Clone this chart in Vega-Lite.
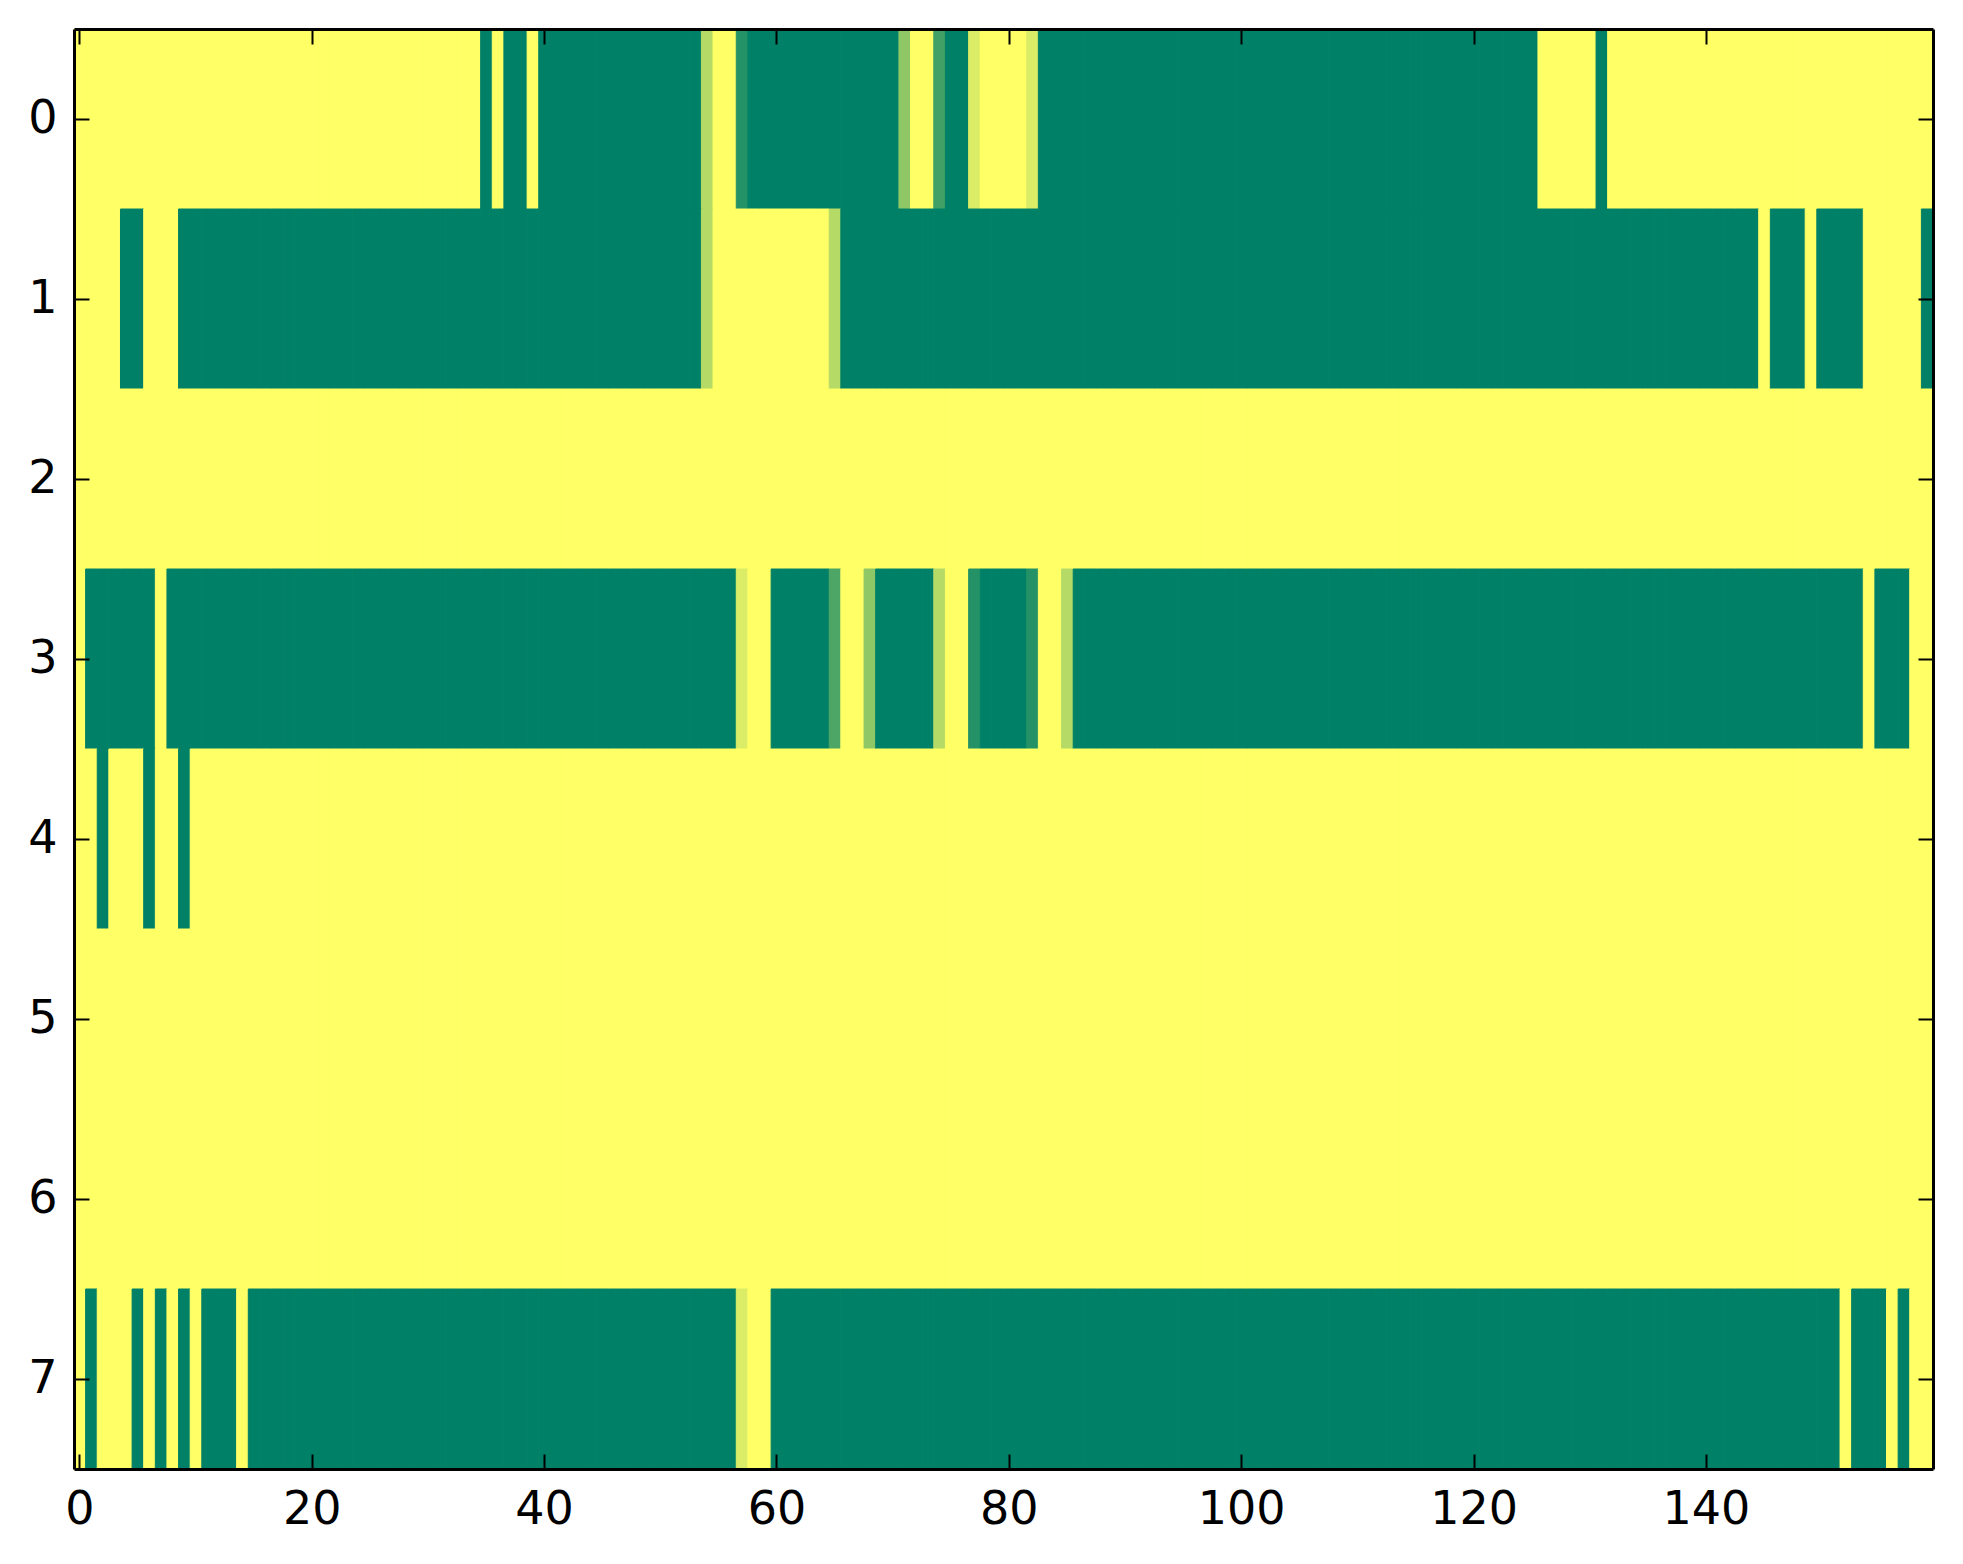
{
  "$schema": "https://vega.github.io/schema/vega-lite/v6.json",
  "width": 1859,
  "height": 1440,
  "autosize": "none",
  "padding": {"left": 74, "top": 29, "right": 30, "bottom": 95},
  "background": "white",
  "config": {
    "view": {"stroke": null},
    "axis": {
      "labelFont": "DejaVu Sans",
      "labelFontSize": 46,
      "labelColor": "black",
      "tickColor": "black",
      "tickWidth": 2,
      "tickSize": -15,
      "domainColor": "black",
      "domainWidth": 3,
      "grid": false,
      "title": null
    }
  },
  "data": {
    "values": [
      {"r":0,"c":0,"v":1},{"r":0,"c":1,"v":1},{"r":0,"c":2,"v":1},{"r":0,"c":3,"v":1},{"r":0,"c":4,"v":1},{"r":0,"c":5,"v":1},{"r":0,"c":6,"v":1},{"r":0,"c":7,"v":1},{"r":0,"c":8,"v":1},{"r":0,"c":9,"v":1},
      {"r":0,"c":10,"v":1},{"r":0,"c":11,"v":1},{"r":0,"c":12,"v":1},{"r":0,"c":13,"v":1},{"r":0,"c":14,"v":1},{"r":0,"c":15,"v":1},{"r":0,"c":16,"v":1},{"r":0,"c":17,"v":1},{"r":0,"c":18,"v":1},{"r":0,"c":19,"v":1},
      {"r":0,"c":20,"v":1},{"r":0,"c":21,"v":1},{"r":0,"c":22,"v":1},{"r":0,"c":23,"v":1},{"r":0,"c":24,"v":1},{"r":0,"c":25,"v":1},{"r":0,"c":26,"v":1},{"r":0,"c":27,"v":1},{"r":0,"c":28,"v":1},{"r":0,"c":29,"v":1},
      {"r":0,"c":30,"v":1},{"r":0,"c":31,"v":1},{"r":0,"c":32,"v":1},{"r":0,"c":33,"v":1},{"r":0,"c":34,"v":1},{"r":0,"c":35,"v":0},{"r":0,"c":36,"v":1},{"r":0,"c":37,"v":0},{"r":0,"c":38,"v":0},{"r":0,"c":39,"v":1},
      {"r":0,"c":40,"v":0},{"r":0,"c":41,"v":0},{"r":0,"c":42,"v":0},{"r":0,"c":43,"v":0},{"r":0,"c":44,"v":0},{"r":0,"c":45,"v":0},{"r":0,"c":46,"v":0},{"r":0,"c":47,"v":0},{"r":0,"c":48,"v":0},{"r":0,"c":49,"v":0},
      {"r":0,"c":50,"v":0},{"r":0,"c":51,"v":0},{"r":0,"c":52,"v":0},{"r":0,"c":53,"v":0},{"r":0,"c":54,"v":0.71},{"r":0,"c":55,"v":1},{"r":0,"c":56,"v":1},{"r":0,"c":57,"v":0.14},{"r":0,"c":58,"v":0},{"r":0,"c":59,"v":0},
      {"r":0,"c":60,"v":0},{"r":0,"c":61,"v":0},{"r":0,"c":62,"v":0},{"r":0,"c":63,"v":0},{"r":0,"c":64,"v":0},{"r":0,"c":65,"v":0},{"r":0,"c":66,"v":0},{"r":0,"c":67,"v":0},{"r":0,"c":68,"v":0},{"r":0,"c":69,"v":0},
      {"r":0,"c":70,"v":0},{"r":0,"c":71,"v":0.56},{"r":0,"c":72,"v":1},{"r":0,"c":73,"v":1},{"r":0,"c":74,"v":0.25},{"r":0,"c":75,"v":0},{"r":0,"c":76,"v":0},{"r":0,"c":77,"v":0.86},{"r":0,"c":78,"v":1},{"r":0,"c":79,"v":1},
      {"r":0,"c":80,"v":1},{"r":0,"c":81,"v":1},{"r":0,"c":82,"v":0.86},{"r":0,"c":83,"v":0},{"r":0,"c":84,"v":0},{"r":0,"c":85,"v":0},{"r":0,"c":86,"v":0},{"r":0,"c":87,"v":0},{"r":0,"c":88,"v":0},{"r":0,"c":89,"v":0},
      {"r":0,"c":90,"v":0},{"r":0,"c":91,"v":0},{"r":0,"c":92,"v":0},{"r":0,"c":93,"v":0},{"r":0,"c":94,"v":0},{"r":0,"c":95,"v":0},{"r":0,"c":96,"v":0},{"r":0,"c":97,"v":0},{"r":0,"c":98,"v":0},{"r":0,"c":99,"v":0},
      {"r":0,"c":100,"v":0},{"r":0,"c":101,"v":0},{"r":0,"c":102,"v":0},{"r":0,"c":103,"v":0},{"r":0,"c":104,"v":0},{"r":0,"c":105,"v":0},{"r":0,"c":106,"v":0},{"r":0,"c":107,"v":0},{"r":0,"c":108,"v":0},{"r":0,"c":109,"v":0},
      {"r":0,"c":110,"v":0},{"r":0,"c":111,"v":0},{"r":0,"c":112,"v":0},{"r":0,"c":113,"v":0},{"r":0,"c":114,"v":0},{"r":0,"c":115,"v":0},{"r":0,"c":116,"v":0},{"r":0,"c":117,"v":0},{"r":0,"c":118,"v":0},{"r":0,"c":119,"v":0},
      {"r":0,"c":120,"v":0},{"r":0,"c":121,"v":0},{"r":0,"c":122,"v":0},{"r":0,"c":123,"v":0},{"r":0,"c":124,"v":0},{"r":0,"c":125,"v":0},{"r":0,"c":126,"v":1},{"r":0,"c":127,"v":1},{"r":0,"c":128,"v":1},{"r":0,"c":129,"v":1},
      {"r":0,"c":130,"v":1},{"r":0,"c":131,"v":0},{"r":0,"c":132,"v":1},{"r":0,"c":133,"v":1},{"r":0,"c":134,"v":1},{"r":0,"c":135,"v":1},{"r":0,"c":136,"v":1},{"r":0,"c":137,"v":1},{"r":0,"c":138,"v":1},{"r":0,"c":139,"v":1},
      {"r":0,"c":140,"v":1},{"r":0,"c":141,"v":1},{"r":0,"c":142,"v":1},{"r":0,"c":143,"v":1},{"r":0,"c":144,"v":1},{"r":0,"c":145,"v":1},{"r":0,"c":146,"v":1},{"r":0,"c":147,"v":1},{"r":0,"c":148,"v":1},{"r":0,"c":149,"v":1},
      {"r":0,"c":150,"v":1},{"r":0,"c":151,"v":1},{"r":0,"c":152,"v":1},{"r":0,"c":153,"v":1},{"r":0,"c":154,"v":1},{"r":0,"c":155,"v":1},{"r":0,"c":156,"v":1},{"r":0,"c":157,"v":1},{"r":0,"c":158,"v":1},{"r":0,"c":159,"v":1},

      {"r":1,"c":0,"v":1},{"r":1,"c":1,"v":1},{"r":1,"c":2,"v":1},{"r":1,"c":3,"v":1},{"r":1,"c":4,"v":0},{"r":1,"c":5,"v":0},{"r":1,"c":6,"v":1},{"r":1,"c":7,"v":1},{"r":1,"c":8,"v":1},{"r":1,"c":9,"v":0},
      {"r":1,"c":10,"v":0},{"r":1,"c":11,"v":0},{"r":1,"c":12,"v":0},{"r":1,"c":13,"v":0},{"r":1,"c":14,"v":0},{"r":1,"c":15,"v":0},{"r":1,"c":16,"v":0},{"r":1,"c":17,"v":0},{"r":1,"c":18,"v":0},{"r":1,"c":19,"v":0},
      {"r":1,"c":20,"v":0},{"r":1,"c":21,"v":0},{"r":1,"c":22,"v":0},{"r":1,"c":23,"v":0},{"r":1,"c":24,"v":0},{"r":1,"c":25,"v":0},{"r":1,"c":26,"v":0},{"r":1,"c":27,"v":0},{"r":1,"c":28,"v":0},{"r":1,"c":29,"v":0},
      {"r":1,"c":30,"v":0},{"r":1,"c":31,"v":0},{"r":1,"c":32,"v":0},{"r":1,"c":33,"v":0},{"r":1,"c":34,"v":0},{"r":1,"c":35,"v":0},{"r":1,"c":36,"v":0},{"r":1,"c":37,"v":0},{"r":1,"c":38,"v":0},{"r":1,"c":39,"v":0},
      {"r":1,"c":40,"v":0},{"r":1,"c":41,"v":0},{"r":1,"c":42,"v":0},{"r":1,"c":43,"v":0},{"r":1,"c":44,"v":0},{"r":1,"c":45,"v":0},{"r":1,"c":46,"v":0},{"r":1,"c":47,"v":0},{"r":1,"c":48,"v":0},{"r":1,"c":49,"v":0},
      {"r":1,"c":50,"v":0},{"r":1,"c":51,"v":0},{"r":1,"c":52,"v":0},{"r":1,"c":53,"v":0},{"r":1,"c":54,"v":0.71},{"r":1,"c":55,"v":1},{"r":1,"c":56,"v":1},{"r":1,"c":57,"v":1},{"r":1,"c":58,"v":1},{"r":1,"c":59,"v":1},
      {"r":1,"c":60,"v":1},{"r":1,"c":61,"v":1},{"r":1,"c":62,"v":1},{"r":1,"c":63,"v":1},{"r":1,"c":64,"v":1},{"r":1,"c":65,"v":0.71},{"r":1,"c":66,"v":0},{"r":1,"c":67,"v":0},{"r":1,"c":68,"v":0},{"r":1,"c":69,"v":0},
      {"r":1,"c":70,"v":0},{"r":1,"c":71,"v":0},{"r":1,"c":72,"v":0},{"r":1,"c":73,"v":0},{"r":1,"c":74,"v":0},{"r":1,"c":75,"v":0},{"r":1,"c":76,"v":0},{"r":1,"c":77,"v":0},{"r":1,"c":78,"v":0},{"r":1,"c":79,"v":0},
      {"r":1,"c":80,"v":0},{"r":1,"c":81,"v":0},{"r":1,"c":82,"v":0},{"r":1,"c":83,"v":0},{"r":1,"c":84,"v":0},{"r":1,"c":85,"v":0},{"r":1,"c":86,"v":0},{"r":1,"c":87,"v":0},{"r":1,"c":88,"v":0},{"r":1,"c":89,"v":0},
      {"r":1,"c":90,"v":0},{"r":1,"c":91,"v":0},{"r":1,"c":92,"v":0},{"r":1,"c":93,"v":0},{"r":1,"c":94,"v":0},{"r":1,"c":95,"v":0},{"r":1,"c":96,"v":0},{"r":1,"c":97,"v":0},{"r":1,"c":98,"v":0},{"r":1,"c":99,"v":0},
      {"r":1,"c":100,"v":0},{"r":1,"c":101,"v":0},{"r":1,"c":102,"v":0},{"r":1,"c":103,"v":0},{"r":1,"c":104,"v":0},{"r":1,"c":105,"v":0},{"r":1,"c":106,"v":0},{"r":1,"c":107,"v":0},{"r":1,"c":108,"v":0},{"r":1,"c":109,"v":0},
      {"r":1,"c":110,"v":0},{"r":1,"c":111,"v":0},{"r":1,"c":112,"v":0},{"r":1,"c":113,"v":0},{"r":1,"c":114,"v":0},{"r":1,"c":115,"v":0},{"r":1,"c":116,"v":0},{"r":1,"c":117,"v":0},{"r":1,"c":118,"v":0},{"r":1,"c":119,"v":0},
      {"r":1,"c":120,"v":0},{"r":1,"c":121,"v":0},{"r":1,"c":122,"v":0},{"r":1,"c":123,"v":0},{"r":1,"c":124,"v":0},{"r":1,"c":125,"v":0},{"r":1,"c":126,"v":0},{"r":1,"c":127,"v":0},{"r":1,"c":128,"v":0},{"r":1,"c":129,"v":0},
      {"r":1,"c":130,"v":0},{"r":1,"c":131,"v":0},{"r":1,"c":132,"v":0},{"r":1,"c":133,"v":0},{"r":1,"c":134,"v":0},{"r":1,"c":135,"v":0},{"r":1,"c":136,"v":0},{"r":1,"c":137,"v":0},{"r":1,"c":138,"v":0},{"r":1,"c":139,"v":0},
      {"r":1,"c":140,"v":0},{"r":1,"c":141,"v":0},{"r":1,"c":142,"v":0},{"r":1,"c":143,"v":0},{"r":1,"c":144,"v":0},{"r":1,"c":145,"v":1},{"r":1,"c":146,"v":0},{"r":1,"c":147,"v":0},{"r":1,"c":148,"v":0},{"r":1,"c":149,"v":1},
      {"r":1,"c":150,"v":0},{"r":1,"c":151,"v":0},{"r":1,"c":152,"v":0},{"r":1,"c":153,"v":0},{"r":1,"c":154,"v":1},{"r":1,"c":155,"v":1},{"r":1,"c":156,"v":1},{"r":1,"c":157,"v":1},{"r":1,"c":158,"v":1},{"r":1,"c":159,"v":0},

      {"r":2,"c":0,"v":1},{"r":2,"c":1,"v":1},{"r":2,"c":2,"v":1},{"r":2,"c":3,"v":1},{"r":2,"c":4,"v":1},{"r":2,"c":5,"v":1},{"r":2,"c":6,"v":1},{"r":2,"c":7,"v":1},{"r":2,"c":8,"v":1},{"r":2,"c":9,"v":1},
      {"r":2,"c":10,"v":1},{"r":2,"c":11,"v":1},{"r":2,"c":12,"v":1},{"r":2,"c":13,"v":1},{"r":2,"c":14,"v":1},{"r":2,"c":15,"v":1},{"r":2,"c":16,"v":1},{"r":2,"c":17,"v":1},{"r":2,"c":18,"v":1},{"r":2,"c":19,"v":1},
      {"r":2,"c":20,"v":1},{"r":2,"c":21,"v":1},{"r":2,"c":22,"v":1},{"r":2,"c":23,"v":1},{"r":2,"c":24,"v":1},{"r":2,"c":25,"v":1},{"r":2,"c":26,"v":1},{"r":2,"c":27,"v":1},{"r":2,"c":28,"v":1},{"r":2,"c":29,"v":1},
      {"r":2,"c":30,"v":1},{"r":2,"c":31,"v":1},{"r":2,"c":32,"v":1},{"r":2,"c":33,"v":1},{"r":2,"c":34,"v":1},{"r":2,"c":35,"v":1},{"r":2,"c":36,"v":1},{"r":2,"c":37,"v":1},{"r":2,"c":38,"v":1},{"r":2,"c":39,"v":1},
      {"r":2,"c":40,"v":1},{"r":2,"c":41,"v":1},{"r":2,"c":42,"v":1},{"r":2,"c":43,"v":1},{"r":2,"c":44,"v":1},{"r":2,"c":45,"v":1},{"r":2,"c":46,"v":1},{"r":2,"c":47,"v":1},{"r":2,"c":48,"v":1},{"r":2,"c":49,"v":1},
      {"r":2,"c":50,"v":1},{"r":2,"c":51,"v":1},{"r":2,"c":52,"v":1},{"r":2,"c":53,"v":1},{"r":2,"c":54,"v":1},{"r":2,"c":55,"v":1},{"r":2,"c":56,"v":1},{"r":2,"c":57,"v":1},{"r":2,"c":58,"v":1},{"r":2,"c":59,"v":1},
      {"r":2,"c":60,"v":1},{"r":2,"c":61,"v":1},{"r":2,"c":62,"v":1},{"r":2,"c":63,"v":1},{"r":2,"c":64,"v":1},{"r":2,"c":65,"v":1},{"r":2,"c":66,"v":1},{"r":2,"c":67,"v":1},{"r":2,"c":68,"v":1},{"r":2,"c":69,"v":1},
      {"r":2,"c":70,"v":1},{"r":2,"c":71,"v":1},{"r":2,"c":72,"v":1},{"r":2,"c":73,"v":1},{"r":2,"c":74,"v":1},{"r":2,"c":75,"v":1},{"r":2,"c":76,"v":1},{"r":2,"c":77,"v":1},{"r":2,"c":78,"v":1},{"r":2,"c":79,"v":1},
      {"r":2,"c":80,"v":1},{"r":2,"c":81,"v":1},{"r":2,"c":82,"v":1},{"r":2,"c":83,"v":1},{"r":2,"c":84,"v":1},{"r":2,"c":85,"v":1},{"r":2,"c":86,"v":1},{"r":2,"c":87,"v":1},{"r":2,"c":88,"v":1},{"r":2,"c":89,"v":1},
      {"r":2,"c":90,"v":1},{"r":2,"c":91,"v":1},{"r":2,"c":92,"v":1},{"r":2,"c":93,"v":1},{"r":2,"c":94,"v":1},{"r":2,"c":95,"v":1},{"r":2,"c":96,"v":1},{"r":2,"c":97,"v":1},{"r":2,"c":98,"v":1},{"r":2,"c":99,"v":1},
      {"r":2,"c":100,"v":1},{"r":2,"c":101,"v":1},{"r":2,"c":102,"v":1},{"r":2,"c":103,"v":1},{"r":2,"c":104,"v":1},{"r":2,"c":105,"v":1},{"r":2,"c":106,"v":1},{"r":2,"c":107,"v":1},{"r":2,"c":108,"v":1},{"r":2,"c":109,"v":1},
      {"r":2,"c":110,"v":1},{"r":2,"c":111,"v":1},{"r":2,"c":112,"v":1},{"r":2,"c":113,"v":1},{"r":2,"c":114,"v":1},{"r":2,"c":115,"v":1},{"r":2,"c":116,"v":1},{"r":2,"c":117,"v":1},{"r":2,"c":118,"v":1},{"r":2,"c":119,"v":1},
      {"r":2,"c":120,"v":1},{"r":2,"c":121,"v":1},{"r":2,"c":122,"v":1},{"r":2,"c":123,"v":1},{"r":2,"c":124,"v":1},{"r":2,"c":125,"v":1},{"r":2,"c":126,"v":1},{"r":2,"c":127,"v":1},{"r":2,"c":128,"v":1},{"r":2,"c":129,"v":1},
      {"r":2,"c":130,"v":1},{"r":2,"c":131,"v":1},{"r":2,"c":132,"v":1},{"r":2,"c":133,"v":1},{"r":2,"c":134,"v":1},{"r":2,"c":135,"v":1},{"r":2,"c":136,"v":1},{"r":2,"c":137,"v":1},{"r":2,"c":138,"v":1},{"r":2,"c":139,"v":1},
      {"r":2,"c":140,"v":1},{"r":2,"c":141,"v":1},{"r":2,"c":142,"v":1},{"r":2,"c":143,"v":1},{"r":2,"c":144,"v":1},{"r":2,"c":145,"v":1},{"r":2,"c":146,"v":1},{"r":2,"c":147,"v":1},{"r":2,"c":148,"v":1},{"r":2,"c":149,"v":1},
      {"r":2,"c":150,"v":1},{"r":2,"c":151,"v":1},{"r":2,"c":152,"v":1},{"r":2,"c":153,"v":1},{"r":2,"c":154,"v":1},{"r":2,"c":155,"v":1},{"r":2,"c":156,"v":1},{"r":2,"c":157,"v":1},{"r":2,"c":158,"v":1},{"r":2,"c":159,"v":1},

      {"r":3,"c":0,"v":1},{"r":3,"c":1,"v":0},{"r":3,"c":2,"v":0},{"r":3,"c":3,"v":0},{"r":3,"c":4,"v":0},{"r":3,"c":5,"v":0},{"r":3,"c":6,"v":0},{"r":3,"c":7,"v":1},{"r":3,"c":8,"v":0},{"r":3,"c":9,"v":0},
      {"r":3,"c":10,"v":0},{"r":3,"c":11,"v":0},{"r":3,"c":12,"v":0},{"r":3,"c":13,"v":0},{"r":3,"c":14,"v":0},{"r":3,"c":15,"v":0},{"r":3,"c":16,"v":0},{"r":3,"c":17,"v":0},{"r":3,"c":18,"v":0},{"r":3,"c":19,"v":0},
      {"r":3,"c":20,"v":0},{"r":3,"c":21,"v":0},{"r":3,"c":22,"v":0},{"r":3,"c":23,"v":0},{"r":3,"c":24,"v":0},{"r":3,"c":25,"v":0},{"r":3,"c":26,"v":0},{"r":3,"c":27,"v":0},{"r":3,"c":28,"v":0},{"r":3,"c":29,"v":0},
      {"r":3,"c":30,"v":0},{"r":3,"c":31,"v":0},{"r":3,"c":32,"v":0},{"r":3,"c":33,"v":0},{"r":3,"c":34,"v":0},{"r":3,"c":35,"v":0},{"r":3,"c":36,"v":0},{"r":3,"c":37,"v":0},{"r":3,"c":38,"v":0},{"r":3,"c":39,"v":0},
      {"r":3,"c":40,"v":0},{"r":3,"c":41,"v":0},{"r":3,"c":42,"v":0},{"r":3,"c":43,"v":0},{"r":3,"c":44,"v":0},{"r":3,"c":45,"v":0},{"r":3,"c":46,"v":0},{"r":3,"c":47,"v":0},{"r":3,"c":48,"v":0},{"r":3,"c":49,"v":0},
      {"r":3,"c":50,"v":0},{"r":3,"c":51,"v":0},{"r":3,"c":52,"v":0},{"r":3,"c":53,"v":0},{"r":3,"c":54,"v":0},{"r":3,"c":55,"v":0},{"r":3,"c":56,"v":0},{"r":3,"c":57,"v":0.86},{"r":3,"c":58,"v":1},{"r":3,"c":59,"v":1},
      {"r":3,"c":60,"v":0},{"r":3,"c":61,"v":0},{"r":3,"c":62,"v":0},{"r":3,"c":63,"v":0},{"r":3,"c":64,"v":0},{"r":3,"c":65,"v":0.3},{"r":3,"c":66,"v":1},{"r":3,"c":67,"v":1},{"r":3,"c":68,"v":0.56},{"r":3,"c":69,"v":0},
      {"r":3,"c":70,"v":0},{"r":3,"c":71,"v":0},{"r":3,"c":72,"v":0},{"r":3,"c":73,"v":0},{"r":3,"c":74,"v":0.71},{"r":3,"c":75,"v":1},{"r":3,"c":76,"v":1},{"r":3,"c":77,"v":0.14},{"r":3,"c":78,"v":0},{"r":3,"c":79,"v":0},
      {"r":3,"c":80,"v":0},{"r":3,"c":81,"v":0},{"r":3,"c":82,"v":0.14},{"r":3,"c":83,"v":1},{"r":3,"c":84,"v":1},{"r":3,"c":85,"v":0.71},{"r":3,"c":86,"v":0},{"r":3,"c":87,"v":0},{"r":3,"c":88,"v":0},{"r":3,"c":89,"v":0},
      {"r":3,"c":90,"v":0},{"r":3,"c":91,"v":0},{"r":3,"c":92,"v":0},{"r":3,"c":93,"v":0},{"r":3,"c":94,"v":0},{"r":3,"c":95,"v":0},{"r":3,"c":96,"v":0},{"r":3,"c":97,"v":0},{"r":3,"c":98,"v":0},{"r":3,"c":99,"v":0},
      {"r":3,"c":100,"v":0},{"r":3,"c":101,"v":0},{"r":3,"c":102,"v":0},{"r":3,"c":103,"v":0},{"r":3,"c":104,"v":0},{"r":3,"c":105,"v":0},{"r":3,"c":106,"v":0},{"r":3,"c":107,"v":0},{"r":3,"c":108,"v":0},{"r":3,"c":109,"v":0},
      {"r":3,"c":110,"v":0},{"r":3,"c":111,"v":0},{"r":3,"c":112,"v":0},{"r":3,"c":113,"v":0},{"r":3,"c":114,"v":0},{"r":3,"c":115,"v":0},{"r":3,"c":116,"v":0},{"r":3,"c":117,"v":0},{"r":3,"c":118,"v":0},{"r":3,"c":119,"v":0},
      {"r":3,"c":120,"v":0},{"r":3,"c":121,"v":0},{"r":3,"c":122,"v":0},{"r":3,"c":123,"v":0},{"r":3,"c":124,"v":0},{"r":3,"c":125,"v":0},{"r":3,"c":126,"v":0},{"r":3,"c":127,"v":0},{"r":3,"c":128,"v":0},{"r":3,"c":129,"v":0},
      {"r":3,"c":130,"v":0},{"r":3,"c":131,"v":0},{"r":3,"c":132,"v":0},{"r":3,"c":133,"v":0},{"r":3,"c":134,"v":0},{"r":3,"c":135,"v":0},{"r":3,"c":136,"v":0},{"r":3,"c":137,"v":0},{"r":3,"c":138,"v":0},{"r":3,"c":139,"v":0},
      {"r":3,"c":140,"v":0},{"r":3,"c":141,"v":0},{"r":3,"c":142,"v":0},{"r":3,"c":143,"v":0},{"r":3,"c":144,"v":0},{"r":3,"c":145,"v":0},{"r":3,"c":146,"v":0},{"r":3,"c":147,"v":0},{"r":3,"c":148,"v":0},{"r":3,"c":149,"v":0},
      {"r":3,"c":150,"v":0},{"r":3,"c":151,"v":0},{"r":3,"c":152,"v":0},{"r":3,"c":153,"v":0},{"r":3,"c":154,"v":1},{"r":3,"c":155,"v":0},{"r":3,"c":156,"v":0},{"r":3,"c":157,"v":0},{"r":3,"c":158,"v":1},{"r":3,"c":159,"v":1},

      {"r":4,"c":0,"v":1},{"r":4,"c":1,"v":1},{"r":4,"c":2,"v":0},{"r":4,"c":3,"v":1},{"r":4,"c":4,"v":1},{"r":4,"c":5,"v":1},{"r":4,"c":6,"v":0},{"r":4,"c":7,"v":1},{"r":4,"c":8,"v":1},{"r":4,"c":9,"v":0},
      {"r":4,"c":10,"v":1},{"r":4,"c":11,"v":1},{"r":4,"c":12,"v":1},{"r":4,"c":13,"v":1},{"r":4,"c":14,"v":1},{"r":4,"c":15,"v":1},{"r":4,"c":16,"v":1},{"r":4,"c":17,"v":1},{"r":4,"c":18,"v":1},{"r":4,"c":19,"v":1},
      {"r":4,"c":20,"v":1},{"r":4,"c":21,"v":1},{"r":4,"c":22,"v":1},{"r":4,"c":23,"v":1},{"r":4,"c":24,"v":1},{"r":4,"c":25,"v":1},{"r":4,"c":26,"v":1},{"r":4,"c":27,"v":1},{"r":4,"c":28,"v":1},{"r":4,"c":29,"v":1},
      {"r":4,"c":30,"v":1},{"r":4,"c":31,"v":1},{"r":4,"c":32,"v":1},{"r":4,"c":33,"v":1},{"r":4,"c":34,"v":1},{"r":4,"c":35,"v":1},{"r":4,"c":36,"v":1},{"r":4,"c":37,"v":1},{"r":4,"c":38,"v":1},{"r":4,"c":39,"v":1},
      {"r":4,"c":40,"v":1},{"r":4,"c":41,"v":1},{"r":4,"c":42,"v":1},{"r":4,"c":43,"v":1},{"r":4,"c":44,"v":1},{"r":4,"c":45,"v":1},{"r":4,"c":46,"v":1},{"r":4,"c":47,"v":1},{"r":4,"c":48,"v":1},{"r":4,"c":49,"v":1},
      {"r":4,"c":50,"v":1},{"r":4,"c":51,"v":1},{"r":4,"c":52,"v":1},{"r":4,"c":53,"v":1},{"r":4,"c":54,"v":1},{"r":4,"c":55,"v":1},{"r":4,"c":56,"v":1},{"r":4,"c":57,"v":1},{"r":4,"c":58,"v":1},{"r":4,"c":59,"v":1},
      {"r":4,"c":60,"v":1},{"r":4,"c":61,"v":1},{"r":4,"c":62,"v":1},{"r":4,"c":63,"v":1},{"r":4,"c":64,"v":1},{"r":4,"c":65,"v":1},{"r":4,"c":66,"v":1},{"r":4,"c":67,"v":1},{"r":4,"c":68,"v":1},{"r":4,"c":69,"v":1},
      {"r":4,"c":70,"v":1},{"r":4,"c":71,"v":1},{"r":4,"c":72,"v":1},{"r":4,"c":73,"v":1},{"r":4,"c":74,"v":1},{"r":4,"c":75,"v":1},{"r":4,"c":76,"v":1},{"r":4,"c":77,"v":1},{"r":4,"c":78,"v":1},{"r":4,"c":79,"v":1},
      {"r":4,"c":80,"v":1},{"r":4,"c":81,"v":1},{"r":4,"c":82,"v":1},{"r":4,"c":83,"v":1},{"r":4,"c":84,"v":1},{"r":4,"c":85,"v":1},{"r":4,"c":86,"v":1},{"r":4,"c":87,"v":1},{"r":4,"c":88,"v":1},{"r":4,"c":89,"v":1},
      {"r":4,"c":90,"v":1},{"r":4,"c":91,"v":1},{"r":4,"c":92,"v":1},{"r":4,"c":93,"v":1},{"r":4,"c":94,"v":1},{"r":4,"c":95,"v":1},{"r":4,"c":96,"v":1},{"r":4,"c":97,"v":1},{"r":4,"c":98,"v":1},{"r":4,"c":99,"v":1},
      {"r":4,"c":100,"v":1},{"r":4,"c":101,"v":1},{"r":4,"c":102,"v":1},{"r":4,"c":103,"v":1},{"r":4,"c":104,"v":1},{"r":4,"c":105,"v":1},{"r":4,"c":106,"v":1},{"r":4,"c":107,"v":1},{"r":4,"c":108,"v":1},{"r":4,"c":109,"v":1},
      {"r":4,"c":110,"v":1},{"r":4,"c":111,"v":1},{"r":4,"c":112,"v":1},{"r":4,"c":113,"v":1},{"r":4,"c":114,"v":1},{"r":4,"c":115,"v":1},{"r":4,"c":116,"v":1},{"r":4,"c":117,"v":1},{"r":4,"c":118,"v":1},{"r":4,"c":119,"v":1},
      {"r":4,"c":120,"v":1},{"r":4,"c":121,"v":1},{"r":4,"c":122,"v":1},{"r":4,"c":123,"v":1},{"r":4,"c":124,"v":1},{"r":4,"c":125,"v":1},{"r":4,"c":126,"v":1},{"r":4,"c":127,"v":1},{"r":4,"c":128,"v":1},{"r":4,"c":129,"v":1},
      {"r":4,"c":130,"v":1},{"r":4,"c":131,"v":1},{"r":4,"c":132,"v":1},{"r":4,"c":133,"v":1},{"r":4,"c":134,"v":1},{"r":4,"c":135,"v":1},{"r":4,"c":136,"v":1},{"r":4,"c":137,"v":1},{"r":4,"c":138,"v":1},{"r":4,"c":139,"v":1},
      {"r":4,"c":140,"v":1},{"r":4,"c":141,"v":1},{"r":4,"c":142,"v":1},{"r":4,"c":143,"v":1},{"r":4,"c":144,"v":1},{"r":4,"c":145,"v":1},{"r":4,"c":146,"v":1},{"r":4,"c":147,"v":1},{"r":4,"c":148,"v":1},{"r":4,"c":149,"v":1},
      {"r":4,"c":150,"v":1},{"r":4,"c":151,"v":1},{"r":4,"c":152,"v":1},{"r":4,"c":153,"v":1},{"r":4,"c":154,"v":1},{"r":4,"c":155,"v":1},{"r":4,"c":156,"v":1},{"r":4,"c":157,"v":1},{"r":4,"c":158,"v":1},{"r":4,"c":159,"v":1},

      {"r":5,"c":0,"v":1},{"r":5,"c":1,"v":1},{"r":5,"c":2,"v":1},{"r":5,"c":3,"v":1},{"r":5,"c":4,"v":1},{"r":5,"c":5,"v":1},{"r":5,"c":6,"v":1},{"r":5,"c":7,"v":1},{"r":5,"c":8,"v":1},{"r":5,"c":9,"v":1},
      {"r":5,"c":10,"v":1},{"r":5,"c":11,"v":1},{"r":5,"c":12,"v":1},{"r":5,"c":13,"v":1},{"r":5,"c":14,"v":1},{"r":5,"c":15,"v":1},{"r":5,"c":16,"v":1},{"r":5,"c":17,"v":1},{"r":5,"c":18,"v":1},{"r":5,"c":19,"v":1},
      {"r":5,"c":20,"v":1},{"r":5,"c":21,"v":1},{"r":5,"c":22,"v":1},{"r":5,"c":23,"v":1},{"r":5,"c":24,"v":1},{"r":5,"c":25,"v":1},{"r":5,"c":26,"v":1},{"r":5,"c":27,"v":1},{"r":5,"c":28,"v":1},{"r":5,"c":29,"v":1},
      {"r":5,"c":30,"v":1},{"r":5,"c":31,"v":1},{"r":5,"c":32,"v":1},{"r":5,"c":33,"v":1},{"r":5,"c":34,"v":1},{"r":5,"c":35,"v":1},{"r":5,"c":36,"v":1},{"r":5,"c":37,"v":1},{"r":5,"c":38,"v":1},{"r":5,"c":39,"v":1},
      {"r":5,"c":40,"v":1},{"r":5,"c":41,"v":1},{"r":5,"c":42,"v":1},{"r":5,"c":43,"v":1},{"r":5,"c":44,"v":1},{"r":5,"c":45,"v":1},{"r":5,"c":46,"v":1},{"r":5,"c":47,"v":1},{"r":5,"c":48,"v":1},{"r":5,"c":49,"v":1},
      {"r":5,"c":50,"v":1},{"r":5,"c":51,"v":1},{"r":5,"c":52,"v":1},{"r":5,"c":53,"v":1},{"r":5,"c":54,"v":1},{"r":5,"c":55,"v":1},{"r":5,"c":56,"v":1},{"r":5,"c":57,"v":1},{"r":5,"c":58,"v":1},{"r":5,"c":59,"v":1},
      {"r":5,"c":60,"v":1},{"r":5,"c":61,"v":1},{"r":5,"c":62,"v":1},{"r":5,"c":63,"v":1},{"r":5,"c":64,"v":1},{"r":5,"c":65,"v":1},{"r":5,"c":66,"v":1},{"r":5,"c":67,"v":1},{"r":5,"c":68,"v":1},{"r":5,"c":69,"v":1},
      {"r":5,"c":70,"v":1},{"r":5,"c":71,"v":1},{"r":5,"c":72,"v":1},{"r":5,"c":73,"v":1},{"r":5,"c":74,"v":1},{"r":5,"c":75,"v":1},{"r":5,"c":76,"v":1},{"r":5,"c":77,"v":1},{"r":5,"c":78,"v":1},{"r":5,"c":79,"v":1},
      {"r":5,"c":80,"v":1},{"r":5,"c":81,"v":1},{"r":5,"c":82,"v":1},{"r":5,"c":83,"v":1},{"r":5,"c":84,"v":1},{"r":5,"c":85,"v":1},{"r":5,"c":86,"v":1},{"r":5,"c":87,"v":1},{"r":5,"c":88,"v":1},{"r":5,"c":89,"v":1},
      {"r":5,"c":90,"v":1},{"r":5,"c":91,"v":1},{"r":5,"c":92,"v":1},{"r":5,"c":93,"v":1},{"r":5,"c":94,"v":1},{"r":5,"c":95,"v":1},{"r":5,"c":96,"v":1},{"r":5,"c":97,"v":1},{"r":5,"c":98,"v":1},{"r":5,"c":99,"v":1},
      {"r":5,"c":100,"v":1},{"r":5,"c":101,"v":1},{"r":5,"c":102,"v":1},{"r":5,"c":103,"v":1},{"r":5,"c":104,"v":1},{"r":5,"c":105,"v":1},{"r":5,"c":106,"v":1},{"r":5,"c":107,"v":1},{"r":5,"c":108,"v":1},{"r":5,"c":109,"v":1},
      {"r":5,"c":110,"v":1},{"r":5,"c":111,"v":1},{"r":5,"c":112,"v":1},{"r":5,"c":113,"v":1},{"r":5,"c":114,"v":1},{"r":5,"c":115,"v":1},{"r":5,"c":116,"v":1},{"r":5,"c":117,"v":1},{"r":5,"c":118,"v":1},{"r":5,"c":119,"v":1},
      {"r":5,"c":120,"v":1},{"r":5,"c":121,"v":1},{"r":5,"c":122,"v":1},{"r":5,"c":123,"v":1},{"r":5,"c":124,"v":1},{"r":5,"c":125,"v":1},{"r":5,"c":126,"v":1},{"r":5,"c":127,"v":1},{"r":5,"c":128,"v":1},{"r":5,"c":129,"v":1},
      {"r":5,"c":130,"v":1},{"r":5,"c":131,"v":1},{"r":5,"c":132,"v":1},{"r":5,"c":133,"v":1},{"r":5,"c":134,"v":1},{"r":5,"c":135,"v":1},{"r":5,"c":136,"v":1},{"r":5,"c":137,"v":1},{"r":5,"c":138,"v":1},{"r":5,"c":139,"v":1},
      {"r":5,"c":140,"v":1},{"r":5,"c":141,"v":1},{"r":5,"c":142,"v":1},{"r":5,"c":143,"v":1},{"r":5,"c":144,"v":1},{"r":5,"c":145,"v":1},{"r":5,"c":146,"v":1},{"r":5,"c":147,"v":1},{"r":5,"c":148,"v":1},{"r":5,"c":149,"v":1},
      {"r":5,"c":150,"v":1},{"r":5,"c":151,"v":1},{"r":5,"c":152,"v":1},{"r":5,"c":153,"v":1},{"r":5,"c":154,"v":1},{"r":5,"c":155,"v":1},{"r":5,"c":156,"v":1},{"r":5,"c":157,"v":1},{"r":5,"c":158,"v":1},{"r":5,"c":159,"v":1},

      {"r":6,"c":0,"v":1},{"r":6,"c":1,"v":1},{"r":6,"c":2,"v":1},{"r":6,"c":3,"v":1},{"r":6,"c":4,"v":1},{"r":6,"c":5,"v":1},{"r":6,"c":6,"v":1},{"r":6,"c":7,"v":1},{"r":6,"c":8,"v":1},{"r":6,"c":9,"v":1},
      {"r":6,"c":10,"v":1},{"r":6,"c":11,"v":1},{"r":6,"c":12,"v":1},{"r":6,"c":13,"v":1},{"r":6,"c":14,"v":1},{"r":6,"c":15,"v":1},{"r":6,"c":16,"v":1},{"r":6,"c":17,"v":1},{"r":6,"c":18,"v":1},{"r":6,"c":19,"v":1},
      {"r":6,"c":20,"v":1},{"r":6,"c":21,"v":1},{"r":6,"c":22,"v":1},{"r":6,"c":23,"v":1},{"r":6,"c":24,"v":1},{"r":6,"c":25,"v":1},{"r":6,"c":26,"v":1},{"r":6,"c":27,"v":1},{"r":6,"c":28,"v":1},{"r":6,"c":29,"v":1},
      {"r":6,"c":30,"v":1},{"r":6,"c":31,"v":1},{"r":6,"c":32,"v":1},{"r":6,"c":33,"v":1},{"r":6,"c":34,"v":1},{"r":6,"c":35,"v":1},{"r":6,"c":36,"v":1},{"r":6,"c":37,"v":1},{"r":6,"c":38,"v":1},{"r":6,"c":39,"v":1},
      {"r":6,"c":40,"v":1},{"r":6,"c":41,"v":1},{"r":6,"c":42,"v":1},{"r":6,"c":43,"v":1},{"r":6,"c":44,"v":1},{"r":6,"c":45,"v":1},{"r":6,"c":46,"v":1},{"r":6,"c":47,"v":1},{"r":6,"c":48,"v":1},{"r":6,"c":49,"v":1},
      {"r":6,"c":50,"v":1},{"r":6,"c":51,"v":1},{"r":6,"c":52,"v":1},{"r":6,"c":53,"v":1},{"r":6,"c":54,"v":1},{"r":6,"c":55,"v":1},{"r":6,"c":56,"v":1},{"r":6,"c":57,"v":1},{"r":6,"c":58,"v":1},{"r":6,"c":59,"v":1},
      {"r":6,"c":60,"v":1},{"r":6,"c":61,"v":1},{"r":6,"c":62,"v":1},{"r":6,"c":63,"v":1},{"r":6,"c":64,"v":1},{"r":6,"c":65,"v":1},{"r":6,"c":66,"v":1},{"r":6,"c":67,"v":1},{"r":6,"c":68,"v":1},{"r":6,"c":69,"v":1},
      {"r":6,"c":70,"v":1},{"r":6,"c":71,"v":1},{"r":6,"c":72,"v":1},{"r":6,"c":73,"v":1},{"r":6,"c":74,"v":1},{"r":6,"c":75,"v":1},{"r":6,"c":76,"v":1},{"r":6,"c":77,"v":1},{"r":6,"c":78,"v":1},{"r":6,"c":79,"v":1},
      {"r":6,"c":80,"v":1},{"r":6,"c":81,"v":1},{"r":6,"c":82,"v":1},{"r":6,"c":83,"v":1},{"r":6,"c":84,"v":1},{"r":6,"c":85,"v":1},{"r":6,"c":86,"v":1},{"r":6,"c":87,"v":1},{"r":6,"c":88,"v":1},{"r":6,"c":89,"v":1},
      {"r":6,"c":90,"v":1},{"r":6,"c":91,"v":1},{"r":6,"c":92,"v":1},{"r":6,"c":93,"v":1},{"r":6,"c":94,"v":1},{"r":6,"c":95,"v":1},{"r":6,"c":96,"v":1},{"r":6,"c":97,"v":1},{"r":6,"c":98,"v":1},{"r":6,"c":99,"v":1},
      {"r":6,"c":100,"v":1},{"r":6,"c":101,"v":1},{"r":6,"c":102,"v":1},{"r":6,"c":103,"v":1},{"r":6,"c":104,"v":1},{"r":6,"c":105,"v":1},{"r":6,"c":106,"v":1},{"r":6,"c":107,"v":1},{"r":6,"c":108,"v":1},{"r":6,"c":109,"v":1},
      {"r":6,"c":110,"v":1},{"r":6,"c":111,"v":1},{"r":6,"c":112,"v":1},{"r":6,"c":113,"v":1},{"r":6,"c":114,"v":1},{"r":6,"c":115,"v":1},{"r":6,"c":116,"v":1},{"r":6,"c":117,"v":1},{"r":6,"c":118,"v":1},{"r":6,"c":119,"v":1},
      {"r":6,"c":120,"v":1},{"r":6,"c":121,"v":1},{"r":6,"c":122,"v":1},{"r":6,"c":123,"v":1},{"r":6,"c":124,"v":1},{"r":6,"c":125,"v":1},{"r":6,"c":126,"v":1},{"r":6,"c":127,"v":1},{"r":6,"c":128,"v":1},{"r":6,"c":129,"v":1},
      {"r":6,"c":130,"v":1},{"r":6,"c":131,"v":1},{"r":6,"c":132,"v":1},{"r":6,"c":133,"v":1},{"r":6,"c":134,"v":1},{"r":6,"c":135,"v":1},{"r":6,"c":136,"v":1},{"r":6,"c":137,"v":1},{"r":6,"c":138,"v":1},{"r":6,"c":139,"v":1},
      {"r":6,"c":140,"v":1},{"r":6,"c":141,"v":1},{"r":6,"c":142,"v":1},{"r":6,"c":143,"v":1},{"r":6,"c":144,"v":1},{"r":6,"c":145,"v":1},{"r":6,"c":146,"v":1},{"r":6,"c":147,"v":1},{"r":6,"c":148,"v":1},{"r":6,"c":149,"v":1},
      {"r":6,"c":150,"v":1},{"r":6,"c":151,"v":1},{"r":6,"c":152,"v":1},{"r":6,"c":153,"v":1},{"r":6,"c":154,"v":1},{"r":6,"c":155,"v":1},{"r":6,"c":156,"v":1},{"r":6,"c":157,"v":1},{"r":6,"c":158,"v":1},{"r":6,"c":159,"v":1},

      {"r":7,"c":0,"v":1},{"r":7,"c":1,"v":0},{"r":7,"c":2,"v":1},{"r":7,"c":3,"v":1},{"r":7,"c":4,"v":1},{"r":7,"c":5,"v":0},{"r":7,"c":6,"v":1},{"r":7,"c":7,"v":0},{"r":7,"c":8,"v":1},{"r":7,"c":9,"v":0},
      {"r":7,"c":10,"v":1},{"r":7,"c":11,"v":0},{"r":7,"c":12,"v":0},{"r":7,"c":13,"v":0},{"r":7,"c":14,"v":1},{"r":7,"c":15,"v":0},{"r":7,"c":16,"v":0},{"r":7,"c":17,"v":0},{"r":7,"c":18,"v":0},{"r":7,"c":19,"v":0},
      {"r":7,"c":20,"v":0},{"r":7,"c":21,"v":0},{"r":7,"c":22,"v":0},{"r":7,"c":23,"v":0},{"r":7,"c":24,"v":0},{"r":7,"c":25,"v":0},{"r":7,"c":26,"v":0},{"r":7,"c":27,"v":0},{"r":7,"c":28,"v":0},{"r":7,"c":29,"v":0},
      {"r":7,"c":30,"v":0},{"r":7,"c":31,"v":0},{"r":7,"c":32,"v":0},{"r":7,"c":33,"v":0},{"r":7,"c":34,"v":0},{"r":7,"c":35,"v":0},{"r":7,"c":36,"v":0},{"r":7,"c":37,"v":0},{"r":7,"c":38,"v":0},{"r":7,"c":39,"v":0},
      {"r":7,"c":40,"v":0},{"r":7,"c":41,"v":0},{"r":7,"c":42,"v":0},{"r":7,"c":43,"v":0},{"r":7,"c":44,"v":0},{"r":7,"c":45,"v":0},{"r":7,"c":46,"v":0},{"r":7,"c":47,"v":0},{"r":7,"c":48,"v":0},{"r":7,"c":49,"v":0},
      {"r":7,"c":50,"v":0},{"r":7,"c":51,"v":0},{"r":7,"c":52,"v":0},{"r":7,"c":53,"v":0},{"r":7,"c":54,"v":0},{"r":7,"c":55,"v":0},{"r":7,"c":56,"v":0},{"r":7,"c":57,"v":0.86},{"r":7,"c":58,"v":1},{"r":7,"c":59,"v":1},
      {"r":7,"c":60,"v":0},{"r":7,"c":61,"v":0},{"r":7,"c":62,"v":0},{"r":7,"c":63,"v":0},{"r":7,"c":64,"v":0},{"r":7,"c":65,"v":0},{"r":7,"c":66,"v":0},{"r":7,"c":67,"v":0},{"r":7,"c":68,"v":0},{"r":7,"c":69,"v":0},
      {"r":7,"c":70,"v":0},{"r":7,"c":71,"v":0},{"r":7,"c":72,"v":0},{"r":7,"c":73,"v":0},{"r":7,"c":74,"v":0},{"r":7,"c":75,"v":0},{"r":7,"c":76,"v":0},{"r":7,"c":77,"v":0},{"r":7,"c":78,"v":0},{"r":7,"c":79,"v":0},
      {"r":7,"c":80,"v":0},{"r":7,"c":81,"v":0},{"r":7,"c":82,"v":0},{"r":7,"c":83,"v":0},{"r":7,"c":84,"v":0},{"r":7,"c":85,"v":0},{"r":7,"c":86,"v":0},{"r":7,"c":87,"v":0},{"r":7,"c":88,"v":0},{"r":7,"c":89,"v":0},
      {"r":7,"c":90,"v":0},{"r":7,"c":91,"v":0},{"r":7,"c":92,"v":0},{"r":7,"c":93,"v":0},{"r":7,"c":94,"v":0},{"r":7,"c":95,"v":0},{"r":7,"c":96,"v":0},{"r":7,"c":97,"v":0},{"r":7,"c":98,"v":0},{"r":7,"c":99,"v":0},
      {"r":7,"c":100,"v":0},{"r":7,"c":101,"v":0},{"r":7,"c":102,"v":0},{"r":7,"c":103,"v":0},{"r":7,"c":104,"v":0},{"r":7,"c":105,"v":0},{"r":7,"c":106,"v":0},{"r":7,"c":107,"v":0},{"r":7,"c":108,"v":0},{"r":7,"c":109,"v":0},
      {"r":7,"c":110,"v":0},{"r":7,"c":111,"v":0},{"r":7,"c":112,"v":0},{"r":7,"c":113,"v":0},{"r":7,"c":114,"v":0},{"r":7,"c":115,"v":0},{"r":7,"c":116,"v":0},{"r":7,"c":117,"v":0},{"r":7,"c":118,"v":0},{"r":7,"c":119,"v":0},
      {"r":7,"c":120,"v":0},{"r":7,"c":121,"v":0},{"r":7,"c":122,"v":0},{"r":7,"c":123,"v":0},{"r":7,"c":124,"v":0},{"r":7,"c":125,"v":0},{"r":7,"c":126,"v":0},{"r":7,"c":127,"v":0},{"r":7,"c":128,"v":0},{"r":7,"c":129,"v":0},
      {"r":7,"c":130,"v":0},{"r":7,"c":131,"v":0},{"r":7,"c":132,"v":0},{"r":7,"c":133,"v":0},{"r":7,"c":134,"v":0},{"r":7,"c":135,"v":0},{"r":7,"c":136,"v":0},{"r":7,"c":137,"v":0},{"r":7,"c":138,"v":0},{"r":7,"c":139,"v":0},
      {"r":7,"c":140,"v":0},{"r":7,"c":141,"v":0},{"r":7,"c":142,"v":0},{"r":7,"c":143,"v":0},{"r":7,"c":144,"v":0},{"r":7,"c":145,"v":0},{"r":7,"c":146,"v":0},{"r":7,"c":147,"v":0},{"r":7,"c":148,"v":0},{"r":7,"c":149,"v":0},
      {"r":7,"c":150,"v":0},{"r":7,"c":151,"v":0},{"r":7,"c":152,"v":1},{"r":7,"c":153,"v":0},{"r":7,"c":154,"v":0},{"r":7,"c":155,"v":0},{"r":7,"c":156,"v":1},{"r":7,"c":157,"v":0},{"r":7,"c":158,"v":1},{"r":7,"c":159,"v":1}
    ]
  },
  "layer": [
    {
      "mark": {"type": "rect", "strokeWidth": 1},
      "encoding": {
        "x": {
          "field": "c",
          "type": "ordinal",
          "scale": {"paddingInner": 0, "paddingOuter": 0},
          "axis": {"orient": "bottom", "values": [0, 20, 40, 60, 80, 100, 120, 140], "labelAngle": 0, "labelPadding": 33, "zindex": 2}
        },
        "y": {
          "field": "r",
          "type": "ordinal",
          "scale": {"paddingInner": 0, "paddingOuter": 0},
          "axis": {"orient": "left", "labelPadding": 32, "zindex": 2}
        },
        "fill": {
          "field": "v",
          "type": "quantitative",
          "scale": {"domain": [0, 1], "range": ["#008066", "#ffff66"], "interpolate": "rgb"},
          "legend": null
        },
        "stroke": {
          "field": "v",
          "type": "quantitative",
          "scale": {"domain": [0, 1], "range": ["#008066", "#ffff66"], "interpolate": "rgb"},
          "legend": null
        }
      }
    },
    {
      "mark": {"type": "rect", "opacity": 0},
      "encoding": {
        "x": {
          "field": "c",
          "type": "ordinal",
          "axis": {"orient": "top", "values": [0, 20, 40, 60, 80, 100, 120, 140], "labels": false, "zindex": 2}
        },
        "y": {
          "field": "r",
          "type": "ordinal",
          "axis": {"orient": "right", "labels": false, "zindex": 2}
        }
      }
    }
  ],
  "resolve": {"axis": {"x": "independent", "y": "independent"}}
}
